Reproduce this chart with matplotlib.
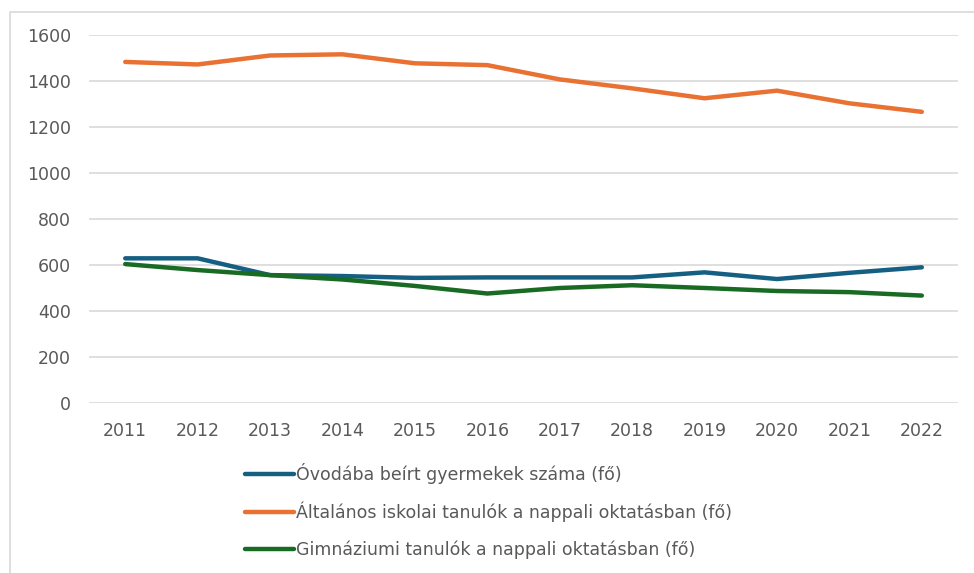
import matplotlib.pyplot as plt
from matplotlib.lines import Line2D

years = ['2011', '2012', '2013', '2014', '2015', '2016',
         '2017', '2018', '2019', '2020', '2021', '2022']
ovoda = [629, 629, 556, 552, 544, 546, 546, 546, 568, 539, 566, 590]
altalanos = [1483, 1472, 1511, 1516, 1477, 1469, 1407, 1368, 1325, 1358, 1303, 1266]
gimnazium = [604, 578, 556, 537, 509, 476, 500, 512, 500, 487, 482, 467]

labels = ['Óvodába beírt gyermekek száma (fő)',
          'Általános iskolai tanulók a nappali oktatásban (fő)',
          'Gimnáziumi tanulók a nappali oktatásban (fő)']
colors = ['#156082', '#E97132', '#196B24']

plt.rcParams['font.family'] = ['DejaVu Sans']

fig = plt.figure(figsize=(9.74, 5.73), dpi=100)
ax = fig.add_axes([0.0914, 0.2967, 0.8922, 0.6422])

x = range(len(years))
for ys, c, lab in zip([ovoda, altalanos, gimnazium], colors, labels):
    ax.plot(x, ys, color=c, lw=3.2, label=lab, solid_capstyle='round',
            solid_joinstyle='round', zorder=3)

ax.set_xlim(-0.5, len(years) - 0.5)
ax.set_ylim(0, 1600)
ax.set_yticks(range(0, 1601, 200))
ax.set_xticks(list(x))
ax.set_xticklabels(years)
ax.grid(axis='y', color='#D9D9D9', lw=1.2)
ax.set_axisbelow(True)
for s in ax.spines.values():
    s.set_visible(False)
ax.tick_params(length=0, labelsize=12.5, labelcolor='#595959', pad=14)
ax.tick_params(axis='y', pad=13)

handles = [Line2D([], [], color=c, lw=3.2, solid_capstyle='round') for c in colors]
fig.legend(handles, labels, loc='upper left', bbox_to_anchor=(0.252, 0.192),
           frameon=False, fontsize=12.5, labelcolor='#595959',
           handlelength=2.78, handletextpad=0.15, labelspacing=1.03,
           borderpad=0, borderaxespad=0)

# chart area border (left and top edges visible)
bx, by = 9.5 / 974, 1 - 11.5 / 573
fig.add_artist(Line2D([bx, bx, 1], [0, by, by], color='#D9D9D9', lw=1.2,
                      transform=fig.transFigure))

fig.savefig('out.png', dpi=100)
